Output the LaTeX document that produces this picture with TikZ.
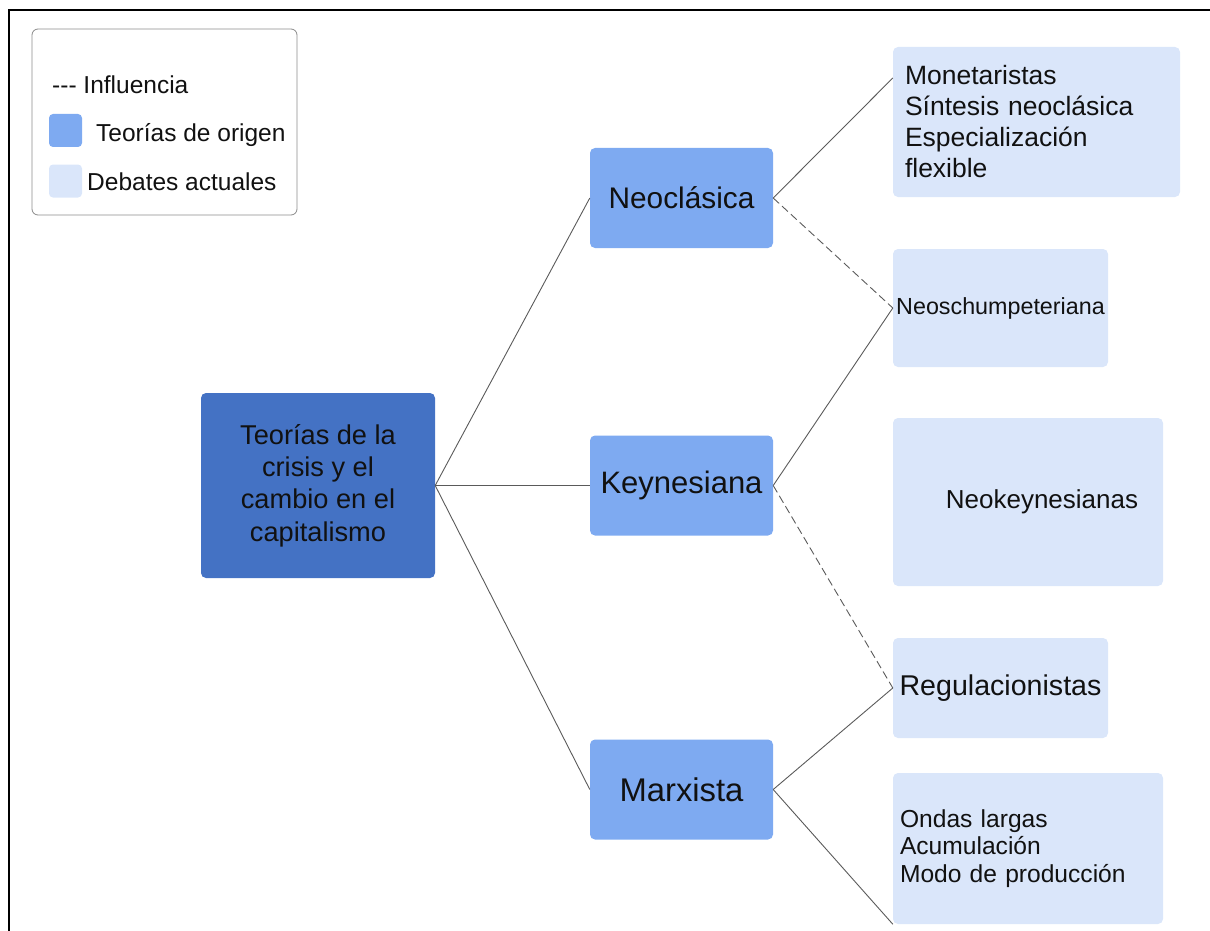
\documentclass[tikz,border=0pt]{standalone}
\usepackage{fontspec}
\setmainfont{Liberation Sans}
\definecolor{rootblue}{HTML}{4472C4}
\definecolor{midblue}{HTML}{7EAAF1}
\definecolor{lightblue}{HTML}{DAE6FA}
\definecolor{linegray}{HTML}{5A5A5A}
\definecolor{legendgray}{HTML}{8A8A8A}
\definecolor{txt}{HTML}{111111}
\begin{document}
\begin{tikzpicture}[x=1pt,y=-1pt,
  box/.style={rounded corners=5pt, inner sep=0pt, text=txt},
  rootbox/.style={box, fill=rootblue, minimum width=234pt, minimum height=185pt, align=center, font=\fontsize{27.2}{32.3}\selectfont},
  origin/.style={box, fill=midblue, minimum width=183pt, minimum height=100pt},
  debate/.style={box, fill=lightblue},
  link/.style={draw=linegray, line width=0.9pt},
  infl/.style={link, dash pattern=on 8pt off 4pt},
  lbl/.style={anchor=base west, inner sep=0pt, text=txt, font=\fontsize{24.5}{28}\selectfont}]

\useasboundingbox (0,0) rectangle (1210,931);
\draw[line width=2.8pt] (9,931) -- (9,10) -- (1210,10);

% legend
\node[draw=legendgray, line width=0.8pt, rounded corners=6pt, minimum width=265pt, minimum height=186pt, inner sep=0pt] (legend) at (164.5,122) {};
\node[lbl] (linf) at (52,94) {-{}-{}- Influencia};
\node[box, fill=midblue, minimum size=33pt, rounded corners=4pt] (sqo) at (65.5,130.5) {};
\node[lbl] (lorig) at (96,142) {Teorías de origen};
\node[box, fill=lightblue, minimum size=33pt, rounded corners=4pt] (sqd) at (65.5,181) {};
\node[lbl] (ldeb) at (87,190) {Debates actuales};

% root
\node[rootbox] (root) at (318,485.5) {Teorías de la\\crisis y el\\cambio en el\\capitalismo};

% origin theories
\node[origin, font=\fontsize{29.8}{34}\selectfont] (neo) at (681.5,198) {Neoclásica};
\node[origin, font=\fontsize{31}{35}\selectfont] (key) at (681.5,485.5) {Keynesiana};
\node[origin, font=\fontsize{32.8}{37}\selectfont] (mar) at (681.5,789.5) {Marxista};

% current debates
\node[debate, minimum width=287pt, minimum height=150pt, text width=263pt, align=left, font=\fontsize{26.5}{31}\selectfont] (mon) at (1036.5,122) {Monetaristas\\Síntesis neoclásica\\Especialización\\flexible};
\node[debate, minimum width=215pt, minimum height=118pt, font=\fontsize{23.3}{28}\selectfont] (sch) at (1000.5,308) {Neoschumpeteriana};
\node[debate, minimum width=270pt, minimum height=168pt, font=\fontsize{26}{30}\selectfont] (nk) at (1028,502) {\hspace*{28pt}Neokeynesianas};
\node[debate, minimum width=215pt, minimum height=100pt, font=\fontsize{28.6}{32}\selectfont] (reg) at (1000.5,688) {Regulacionistas};
\node[debate, minimum width=270pt, minimum height=151pt, text width=256pt, align=left, font=\fontsize{24.6}{27.5}\selectfont] (ond) at (1028,848.5) {Ondas largas\\Acumulación\\Modo de producción};

% connectors
\draw[link] (root.east) -- (neo.west);
\draw[link] (root.east) -- (key.west);
\draw[link] (root.east) -- (mar.west);
\draw[link] (neo.east) -- ([yshift=44pt]mon.west);
\draw[infl] (neo.east) -- (sch.west);
\draw[link] (key.east) -- (sch.west);
\draw[infl] (key.east) -- (reg.west);
\draw[link] (mar.east) -- (reg.west);
\draw[link] (mar.east) -- (ond.south west);
\end{tikzpicture}
\end{document}
